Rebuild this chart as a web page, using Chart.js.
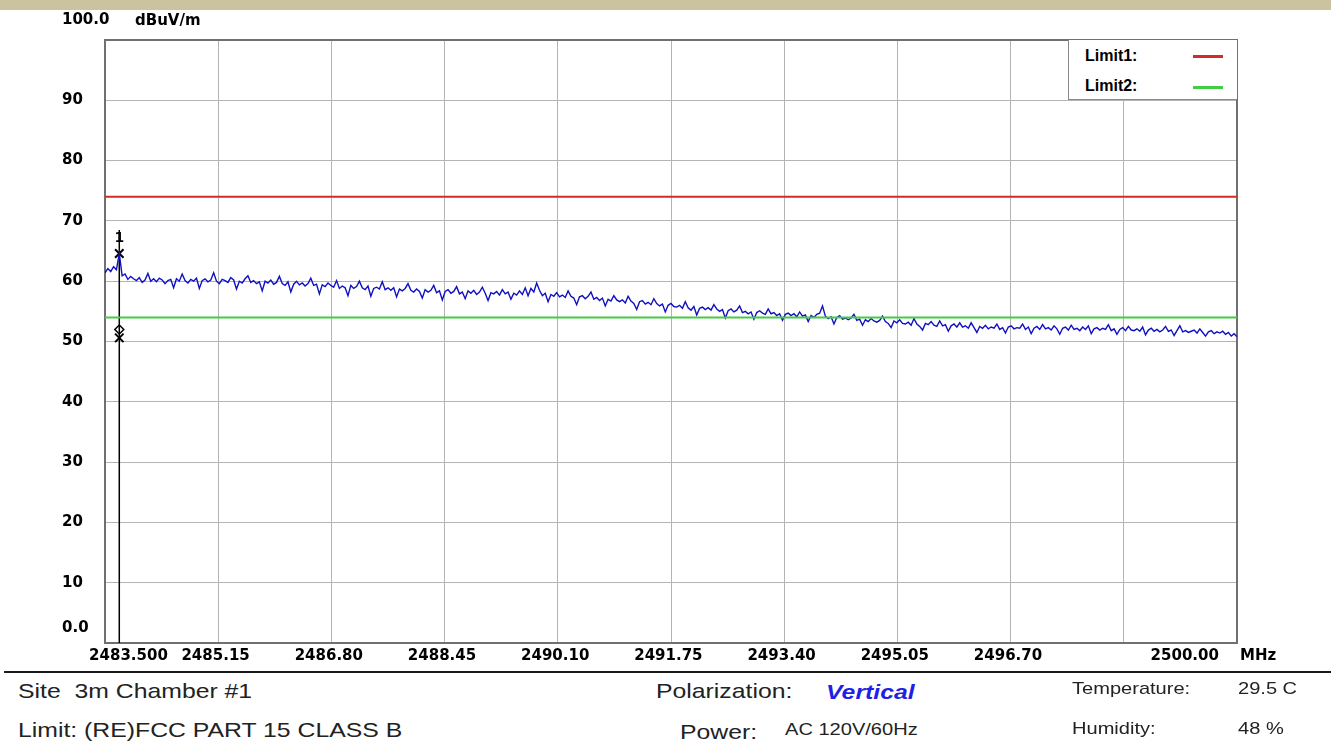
<!DOCTYPE html>
<html><head><meta charset="utf-8">
<script src="https://cdn.jsdelivr.net/npm/chart.js@4.4.1/dist/chart.umd.min.js"></script>
<style>
html,body{margin:0;padding:0;background:#fff;}
body{width:1331px;height:744px;position:relative;overflow:hidden;font-family:"Liberation Sans",Arial,sans-serif;}
#topband{position:absolute;left:0;top:0;width:1331px;height:10px;background:#cbc39f;}
#wrap{position:absolute;left:0;top:0;width:1331px;height:672px;}
#sep{position:absolute;left:4px;top:671px;width:1327px;height:2px;background:#1a1a1a;}
.t{position:absolute;white-space:pre;transform-origin:0 50%;transform:scaleX(1.18);color:#222;line-height:1;font-size:21px;}
.s{font-size:17px;}
.ax{position:absolute;white-space:pre;font-family:"DejaVu Sans",sans-serif;font-weight:bold;font-size:15px;line-height:1;color:#000;}
#legend{position:absolute;left:1068px;top:40px;width:168px;height:59px;background:#fff;border-left:1px solid #8a8a8a;border-bottom:1px solid #8a8a8a;}
.lg{position:absolute;left:16px;font-weight:bold;font-size:16px;line-height:1;color:#000;}
.sw{position:absolute;left:124px;width:30px;height:3px;}
</style></head>
<body>
<div id="topband"></div>
<div id="wrap"><canvas id="c" width="1331" height="672"></canvas></div>
<div class="ax" style="left:135px;top:13px;">dBuV/m</div>
<div class="ax" style="left:1240px;top:648px;">MHz</div>
<div id="legend">
  <div class="lg" style="top:8px;">Limit1:</div><div class="sw" style="top:15px;background:#d42a2a;"></div>
  <div class="lg" style="top:38px;">Limit2:</div><div class="sw" style="top:46px;background:#44cc44;"></div>
</div>
<div id="sep"></div>
<div class="t" style="left:18px;top:680px;">Site  3m Chamber #1</div>
<div class="t" style="left:18px;top:719px;">Limit: (RE)FCC PART 15 CLASS B</div>
<div class="t" style="left:656px;top:680px;">Polarization:</div>
<div class="t" style="left:826px;top:681px;font-weight:bold;font-style:italic;color:#1f1fe6;">Vertical</div>
<div class="t" style="left:680px;top:721px;">Power:</div>
<div class="t s" style="left:785px;top:721px;">AC 120V/60Hz</div>
<div class="t s" style="left:1072px;top:680px;">Temperature:</div>
<div class="t s" style="left:1238px;top:680px;">29.5 C</div>
<div class="t s" style="left:1072px;top:720px;">Humidity:</div>
<div class="t s" style="left:1238px;top:720px;">48 %</div>
<script>
// ---- data ----
const freqStart = 2483.5;
const freqStop = 2500.0;
const xTickValues = [2483.5, 2485.15, 2486.8, 2488.45, 2490.1, 2491.75, 2493.4, 2495.05, 2496.7, 2498.35, 2500.0];
const xTickLabels = ['2483.500', '2485.15', '2486.80', '2488.45', '2490.10', '2491.75', '2493.40', '2495.05', '2496.70', '', '2500.00'];
const yTickValues = [0, 10, 20, 30, 40, 50, 60, 70, 80, 90, 100];
const yTickLabels = ['0.0', '10', '20', '30', '40', '50', '60', '70', '80', '90', '100.0'];
const limit1Value = 74;
const limit2Value = 54;
const markerFreq = 2483.7083;
const markerPeak = 64.6;
const marker2Value = 50.6;
const marker2Diamond = 52.0;
const markerLineTop = 68.5;
const traceValues = [
61.4, 62.1, 61.6, 62.4, 61.9, 64.6, 60.9, 61.2, 60.3, 60.8,
60.4, 60.1, 60.6, 59.8, 60.2, 61.3, 60.0, 60.4, 59.9, 60.5,
60.2, 59.6, 60.1, 60.3, 58.9, 60.4, 60.0, 61.2, 60.1, 59.7,
60.3, 60.0, 60.5, 58.8, 60.1, 60.4, 59.9, 60.2, 61.4, 60.0,
59.6, 60.3, 60.1, 59.8, 60.6, 60.2, 58.7, 60.0, 59.7, 60.4,
60.9, 59.8, 60.1, 59.6, 59.9, 58.4, 60.0, 59.7, 60.2, 59.5,
59.8, 60.8, 59.6, 59.3, 59.9, 58.2, 59.5, 60.0, 59.4, 59.7,
59.2, 59.6, 60.5, 59.3, 59.5, 57.9, 59.4, 59.1, 59.7, 59.3,
59.0, 60.1, 58.8, 59.2, 58.9, 57.6, 59.3, 58.8, 59.1, 60.0,
58.9, 58.6, 59.2, 57.5, 58.8, 59.0, 58.7, 59.9, 58.6, 58.9,
58.5, 58.9, 57.4, 58.7, 58.4, 58.8, 59.6, 58.5, 58.2, 58.7,
58.3, 57.2, 58.6, 58.2, 58.5, 59.3, 58.1, 58.4, 56.9, 58.3,
58.6, 58.0, 58.3, 59.1, 57.9, 58.2, 57.1, 58.4, 58.0, 58.5,
57.8, 58.2, 59.0, 58.0, 56.8, 58.1, 57.9, 58.3, 57.7, 58.6,
57.9, 58.2, 57.0, 58.0, 57.7, 58.4, 57.8, 58.9, 57.6, 58.8,
58.2, 59.7, 58.5, 57.6, 58.0, 56.6, 57.8, 57.5, 58.1, 57.4,
57.7, 57.3, 58.4, 57.5, 57.2, 56.1, 57.4, 57.6, 57.1, 57.5,
58.2, 57.0, 57.3, 56.8, 57.2, 55.9, 57.0, 56.7, 57.6, 56.9,
56.6, 56.9, 56.4, 57.5, 56.7, 56.3, 55.3, 56.6, 56.8, 56.2,
56.5, 56.1, 57.1, 56.3, 55.9, 56.2, 54.9, 56.0, 56.3, 55.8,
55.7, 56.0, 55.5, 56.6, 55.6, 55.2, 55.8, 54.4, 55.5, 55.7,
55.3, 55.6, 55.2, 56.1, 55.4, 55.0, 55.3, 53.9, 55.1, 55.4,
54.9, 55.2, 55.9, 54.8, 55.0, 54.6, 54.9, 53.7, 54.8, 55.1,
54.7, 54.5, 55.4, 54.6, 54.8, 54.3, 54.6, 53.5, 54.5, 54.7,
54.3, 54.6, 54.1, 54.9, 54.2, 54.4, 53.3, 54.3, 54.0, 54.5,
54.7, 55.9, 54.2, 53.8, 54.1, 52.9, 54.0, 54.3, 53.7, 53.9,
53.6, 53.9, 54.5, 53.5, 53.7, 52.7, 53.6, 53.3, 53.8, 53.4,
53.2, 53.5, 54.2, 53.3, 53.0, 52.3, 53.4, 53.1, 53.6, 53.0,
52.9, 53.2, 52.7, 53.8, 52.9, 52.5, 51.9, 53.0, 52.8, 53.3,
52.7, 52.5, 53.4, 52.6, 52.8, 51.7, 52.6, 52.9, 52.4, 53.1,
52.4, 52.6, 52.2, 53.1, 52.3, 51.5, 52.5, 52.2, 52.7, 52.1,
52.4, 52.2, 52.9, 52.0, 52.3, 51.4, 52.4, 52.6, 52.1, 52.3,
52.2, 52.9, 52.0, 52.4, 51.3, 52.2, 52.5, 52.0, 52.8, 52.1,
52.3, 51.9, 52.6, 52.1, 51.2, 52.2, 52.4, 51.9, 52.7, 52.0,
52.2, 51.8, 52.4, 52.0, 52.6, 51.3, 52.1, 52.3, 51.9, 52.2,
52.0, 52.8, 51.8, 52.1, 51.2, 52.0, 52.3, 51.8, 52.5, 51.9,
51.8, 52.1, 51.7, 52.4, 51.1, 51.9, 52.2, 51.7, 52.0, 51.6,
51.9, 52.5, 51.7, 51.9, 51.0, 51.8, 52.6, 51.6, 51.8, 51.5,
51.7, 51.9, 51.4, 52.1, 51.5, 50.9, 51.6, 51.8, 51.3, 51.6,
51.4, 51.7, 51.2, 51.5, 50.9, 51.3, 50.8
];

// sweep frequencies (linear sweep from start to stop)
const sweepStep = (freqStop - freqStart) / (traceValues.length - 1);
const tracePoints = traceValues.map((v, i) => ({ x: freqStart + i * sweepStep, y: v }));

const tickFont = { family: '"DejaVu Sans", sans-serif', size: 15, weight: 'bold' };

const framePlugin = {
  id: 'frame',
  beforeDatasetsDraw(chart) {
    const a = chart.chartArea, ctx = chart.ctx;
    ctx.save();
    ctx.strokeStyle = '#707070';
    ctx.lineWidth = 2;
    ctx.strokeRect(a.left, a.top, a.right - a.left, a.bottom - a.top);
    ctx.restore();
  },
  afterDatasetsDraw(chart) {
    const ctx = chart.ctx;
    const x = chart.scales.x.getPixelForValue(markerFreq);
    const y = chart.scales.y.getPixelForValue(markerPeak);
    ctx.save();
    ctx.fillStyle = '#000';
    ctx.font = 'bold 14px "DejaVu Sans", sans-serif';
    ctx.textAlign = 'center';
    ctx.textBaseline = 'middle';
    ctx.fillText('1', x, y - 15);
    ctx.restore();
  }
};

new Chart(document.getElementById('c'), {
  type: 'line',
  data: {
    datasets: [
      { label: 'Limit1', data: [{ x: freqStart, y: limit1Value }, { x: freqStop, y: limit1Value }], borderColor: '#d42a2a', borderWidth: 2, pointRadius: 0 },
      { label: 'Limit2', data: [{ x: freqStart, y: limit2Value }, { x: freqStop, y: limit2Value }], borderColor: '#44cc44', borderWidth: 2, pointRadius: 0 },
      { label: 'Trace', data: tracePoints, borderColor: '#1010c0', borderWidth: 1.4, pointRadius: 0 },
      { label: 'MarkerLine', data: [{ x: markerFreq, y: 0 }, { x: markerFreq, y: markerLineTop }], borderColor: '#000', borderWidth: 1.5, pointRadius: 0 },
      { label: 'Markers', data: [{ x: markerFreq, y: markerPeak }, { x: markerFreq, y: marker2Value }], showLine: false, pointStyle: 'crossRot', pointRadius: 6, borderColor: '#000', borderWidth: 2 },
      { label: 'Marker2b', data: [{ x: markerFreq, y: marker2Diamond }], showLine: false, pointStyle: 'rectRot', pointRadius: 4.5, borderColor: '#000', backgroundColor: 'rgba(0,0,0,0)', borderWidth: 1.5 }
    ]
  },
  options: {
    responsive: false,
    animation: false,
    events: [],
    layout: { padding: { left: 62, right: 94, top: 40, bottom: 4 } },
    plugins: { legend: { display: false }, tooltip: { enabled: false }, title: { display: false } },
    scales: {
      x: {
        type: 'linear',
        min: freqStart, max: freqStop,
        afterBuildTicks: (s) => { s.ticks = xTickValues.map(v => ({ value: v })); },
        afterFit: (s) => { s.height = 25; },
        grid: { color: '#b4b4b4', lineWidth: 1, drawTicks: false },
        border: { display: false },
        ticks: {
          autoSkip: false, maxRotation: 0, padding: 4, color: '#000', font: tickFont,
          callback: (v, i) => {
            const lab = xTickLabels[i];
            if (i === 0) return ' '.repeat(9) + lab;
            if (i === xTickLabels.length - 1) return lab + ' '.repeat(20);
            return lab === '' ? '' : lab + ' ';
          }
        }
      },
      y: {
        type: 'linear',
        min: 0, max: 100,
        afterBuildTicks: (s) => { s.ticks = yTickValues.map(v => ({ value: v })); },
        afterFit: (s) => { s.width = 43; },
        grid: { color: '#b4b4b4', lineWidth: 1, drawTicks: false },
        border: { display: false },
        ticks: {
          autoSkip: false, mirror: true, crossAlign: 'near', padding: -43, color: '#000',
          font: { family: '"DejaVu Sans", sans-serif', size: 15, weight: 'bold', lineHeight: '10px' },
          callback: (v, i) => {
            const lab = yTickLabels[i];
            if (v === 100) return [lab, '', '', '', ''];
            if (v === 0) return [lab, '', '', ''];
            return lab;
          }
        }
      }
    }
  },
  plugins: [framePlugin]
});
</script>
</body></html>
